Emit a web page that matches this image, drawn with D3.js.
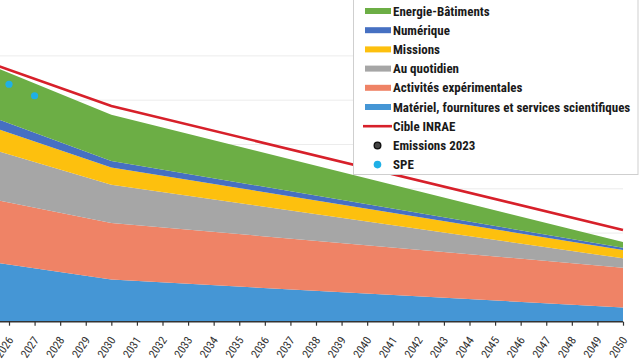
<!DOCTYPE html>
<html><head><meta charset="utf-8">
<script src="https://cdn.jsdelivr.net/npm/d3@7"></script>
<style>
html,body{margin:0;padding:0;background:#fff;}
svg{display:block;}
text{font-family:"Liberation Sans Narrow","Roboto Condensed","Arial Narrow",sans-serif;}
</style></head>
<body>
<svg id="chart" width="640" height="360"></svg>
<script>
// ---- data ----
const years = [2025, 2030, 2050];
const materiel = [13.75, 9.5, 3.2];
const activites = [14.3, 12.8, 9.0];
const quotidien = [11.45, 8.6, 2.1];
const missions = [5.1, 3.9, 1.9];
const numerique = [2.3, 1.5, 0.5];
const energie = [11.6, 10.4, 1.3];
const cible = [58.9, 48.7, 20.7];
const speYears = [2026, 2027];
const speValues = [53.6, 51.0];
const tickYears = [2026,2027,2028,2029,2030,2031,2032,2033,2034,2035,2036,2037,2038,2039,2040,2041,2042,2043,2044,2045,2046,2047,2048,2049,2050];
const gridValues = [10, 20, 30, 40, 50, 60];

const seriesKeys = ["materiel","activites","quotidien","missions","numerique","energie"];
const seriesLabels = {
  energie:"Energie-Bâtiments", numerique:"Numérique", missions:"Missions",
  quotidien:"Au quotidien", activites:"Activités expérimentales",
  materiel:"Matériel, fournitures et services scientifiques"
};
const colors = {
  materiel:"#4596d5", activites:"#ef8366", quotidien:"#a6a6a6",
  missions:"#fdc00e", numerique:"#4670c2", energie:"#6cae45"
};
const seriesValues = {materiel, activites, quotidien, missions, numerique, energie};

const rows = years.map((yr, i) => {
  const r = {year: yr};
  seriesKeys.forEach(k => r[k] = seriesValues[k][i]);
  return r;
});

const svg = d3.select("#chart");
const x = d3.scaleLinear().domain([2026, 2050]).range([9, 623]);
const y = d3.scaleLinear().domain([0, 60]).range([321.7, 55.9]);

svg.append("defs").append("clipPath").attr("id","clip")
  .append("rect").attr("x",0).attr("y",0).attr("width",640).attr("height",321.7);

// gridlines
svg.append("g").selectAll("line").data(gridValues).join("line")
  .attr("x1", 0).attr("x2", x(2050))
  .attr("y1", d => y(d)).attr("y2", d => y(d))
  .attr("stroke", "#ececec").attr("stroke-width", 1);

const plot = svg.append("g").attr("clip-path","url(#clip)");

const stack = d3.stack().keys(seriesKeys);
const stacked = stack(rows);
const area = d3.area()
  .x(d => x(d.data.year)).y0(d => y(d[0])).y1(d => y(d[1]));

plot.selectAll("path.area").data(stacked).join("path")
  .attr("class","area")
  .attr("d", area)
  .attr("fill", d => colors[d.key]);

// target line
const line = d3.line().x((d,i) => x(years[i])).y(d => y(d));
plot.append("path").datum(cible)
  .attr("d", line).attr("fill","none")
  .attr("stroke","#d7202a").attr("stroke-width",2.6);

// SPE points
plot.selectAll("circle.spe").data(speValues).join("circle")
  .attr("class","spe")
  .attr("cx", (d,i) => x(speYears[i])).attr("cy", d => y(d))
  .attr("r", 3.6).attr("fill", "#1fb0e6");

// x axis
const xAxis = d3.axisBottom(x).tickValues(tickYears).tickFormat(d3.format("d"))
  .tickSizeOuter(0).tickSize(4).tickPadding(3);
const gx = svg.append("g").attr("transform","translate(0,321.7)").call(xAxis);
gx.select(".domain").attr("stroke","#333").attr("stroke-width",1.6).attr("d","M0,0H"+x(2050));
gx.selectAll(".tick line").attr("stroke","#333").attr("stroke-width",1.2);
gx.selectAll(".tick text")
  .attr("fill","#333").attr("font-size",11.5)
  .attr("text-anchor","end")
  .attr("x",0).attr("y",0)
  .attr("dy","0.35em").attr("dx",0)
  .attr("transform","translate(1,16) rotate(-56)")
  .style("font-family",'"Liberation Sans Narrow","Roboto Condensed",sans-serif');

// legend
const lg = svg.append("g");
lg.append("rect").attr("x",353.5).attr("y",-2).attr("width",284.5).attr("height",176.5)
  .attr("fill","#fff").attr("stroke","#cfcfcf").attr("stroke-width",1);
const legendItems = [
  {type:"rect", key:"energie"},{type:"rect", key:"numerique"},{type:"rect", key:"missions"},
  {type:"rect", key:"quotidien"},{type:"rect", key:"activites"},{type:"rect", key:"materiel"},
  {type:"line", label:"Cible INRAE"},{type:"dot", label:"Emissions 2023"},{type:"spe", label:"SPE"}
];
const rowY = i => 11 + i*19.2;
legendItems.forEach((it, i) => {
  const cy = rowY(i);
  if (it.type === "rect") {
    lg.append("rect").attr("x",365).attr("y",cy-3).attr("width",26).attr("height",6).attr("fill",colors[it.key]);
  } else if (it.type === "line") {
    lg.append("line").attr("x1",363).attr("x2",392).attr("y1",cy).attr("y2",cy)
      .attr("stroke","#d7202a").attr("stroke-width",2.6);
  } else if (it.type === "dot") {
    lg.append("circle").attr("cx",377.5).attr("cy",cy).attr("r",3.3)
      .attr("fill","#444").attr("stroke","#111").attr("stroke-width",1.4);
  } else {
    lg.append("circle").attr("cx",377.5).attr("cy",cy).attr("r",3.8).attr("fill","#1fb0e6");
  }
  lg.append("text").attr("x",393).attr("y",cy).attr("dy","0.36em")
    .attr("font-size",13).attr("fill","#1a1a1a").attr("font-weight","bold")
    .text(it.key ? seriesLabels[it.key] : it.label);
});
</script>
</body></html>
